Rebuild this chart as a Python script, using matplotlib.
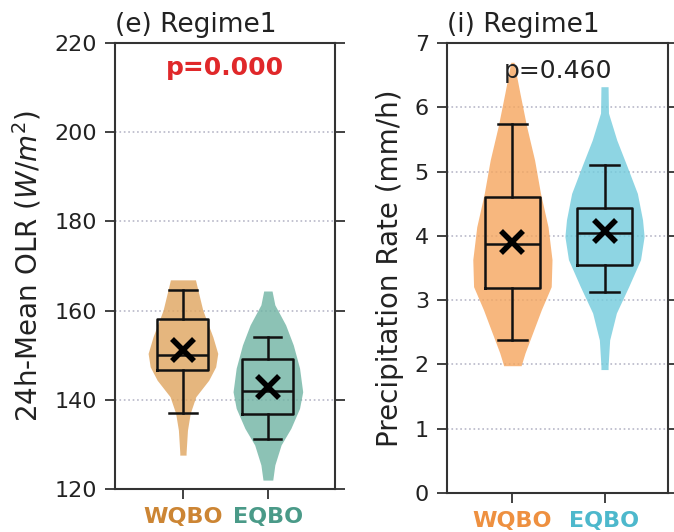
import numpy as np
import matplotlib
matplotlib.use("Agg")
import matplotlib.pyplot as plt

groups = ["WQBO", "EQBO"]

# OLR box statistics (W/m^2)
olr_q1 = [146.7, 136.8]
olr_med = [150.0, 142.0]
olr_q3 = [158.1, 149.1]
olr_lo = [137.0, 131.2]
olr_hi = [164.6, 154.0]
olr_mean = [151.2, 142.9]

# OLR density profiles (level, relative density)
olr_wqbo_lev = [127.6, 128.1, 133.2, 137.0, 140.7, 144.4, 147.4, 150.4, 154.1, 160.1, 164.6, 166.9]
olr_wqbo_den = [0.09, 0.09, 0.13, 0.21, 0.37, 0.74, 0.94, 1.00, 0.86, 0.57, 0.43, 0.36]
olr_eqbo_lev = [122.0, 125.4, 129.9, 133.6, 138.1, 141.8, 147.1, 152.3, 156.8, 161.3, 164.4]
olr_eqbo_den = [0.14, 0.20, 0.38, 0.66, 0.91, 1.00, 0.91, 0.73, 0.51, 0.20, 0.12]

# precipitation box statistics (mm/h)
pr_q1 = [3.19, 3.55]
pr_med = [3.88, 4.04]
pr_q3 = [4.61, 4.44]
pr_lo = [2.38, 3.12]
pr_hi = [5.74, 5.10]
pr_mean = [3.91, 4.07]

pr_wqbo_lev = [1.98, 2.18, 2.49, 2.85, 3.21, 3.63, 4.14, 4.66, 5.18, 5.70, 6.22, 6.70]
pr_wqbo_den = [0.22, 0.32, 0.51, 0.73, 0.98, 1.00, 0.90, 0.71, 0.56, 0.36, 0.19, 0.04]
pr_eqbo_lev = [1.92, 1.97, 2.38, 2.80, 3.21, 3.63, 3.99, 4.25, 4.66, 5.08, 5.49, 5.91, 6.32]
pr_eqbo_den = [0.09, 0.09, 0.13, 0.30, 0.61, 0.91, 1.00, 0.96, 0.83, 0.57, 0.31, 0.10, 0.09]


def draw_panel(ax, profiles, stats, means, fills, label_colors, half_w):
    for i, (lev, den) in enumerate(profiles):
        lev = np.array(lev)
        den = np.array(den) * half_w
        ax.fill_betweenx(lev, i - den, i + den, color=fills[i], alpha=0.8,
                         lw=0, zorder=1)

    q1, med, q3, lo, hi = stats
    bstats = []
    for i in range(len(groups)):
        bstats.append({"q1": q1[i], "med": med[i], "q3": q3[i],
                       "whislo": lo[i], "whishi": hi[i], "fliers": []})
    lp = dict(color="#111111", lw=1.8)
    ax.bxp(bstats, positions=range(len(groups)), widths=0.6,
           showfliers=False, patch_artist=False, manage_ticks=False,
           boxprops=lp, medianprops=lp, whiskerprops=lp, capprops=lp,
           capwidths=0.32, zorder=3)
    ax.plot(range(len(groups)), means, "x", color="black", ms=16, mew=4,
            zorder=4)

    ax.yaxis.grid(True, linestyle=":", color="#b8b8c8", lw=1.2)
    ax.set_axisbelow(True)
    ax.tick_params(axis="y", right=True, labelsize=16, length=7, width=1.3,
                   pad=6, color="#333333", labelcolor="#222222")
    ax.tick_params(axis="x", length=7, width=1.3, pad=6, color="#333333")
    ax.set_xticks(range(len(groups)))
    ax.set_xticklabels(groups, fontweight="bold", fontsize=16)
    for t, c in zip(ax.get_xticklabels(), label_colors):
        t.set_color(c)
    for s in ax.spines.values():
        s.set_linewidth(1.5)
        s.set_color("#333333")


fig = plt.figure(figsize=(6.74, 5.32), dpi=100)
ax1 = fig.add_axes([0.1706, 0.0808, 0.3264, 0.8383])
ax2 = fig.add_axes([0.6632, 0.0733, 0.328, 0.8459])

draw_panel(ax1, [(olr_wqbo_lev, olr_wqbo_den), (olr_eqbo_lev, olr_eqbo_den)],
           (olr_q1, olr_med, olr_q3, olr_lo, olr_hi), olr_mean,
           ["#dfa45e", "#6fb3a3"], ["#cc8534", "#4a9a88"], 0.41)
ax1.set_xlim(-0.8, 1.79)
ax1.set_ylim(120, 220)
ax1.set_yticks([120, 140, 160, 180, 200, 220])
ax1.set_ylabel("24h-Mean OLR ($W/m^2$)", fontsize=20, labelpad=8,
               color="#222222")
ax1.set_title("(e) Regime1", loc="left", fontsize=19, pad=8, color="#222222")
ax1.text(0.5, 0.928, "p=0.000", transform=ax1.transAxes, color="#e0282a",
         fontweight="bold", fontsize=18, ha="center", va="baseline")

draw_panel(ax2, [(pr_wqbo_lev, pr_wqbo_den), (pr_eqbo_lev, pr_eqbo_den)],
           (pr_q1, pr_med, pr_q3, pr_lo, pr_hi), pr_mean,
           ["#f5a55e", "#72cbdc"], ["#ee9040", "#4db8cc"], 0.43)
ax2.set_xlim(-0.71, 1.69)
ax2.set_ylim(0, 7)
ax2.set_yticks(range(8))
ax2.set_ylabel("Precipitation Rate (mm/h)", fontsize=20, labelpad=8,
               color="#222222")
ax2.set_title("(i) Regime1", loc="left", fontsize=19, pad=8, color="#222222")
ax2.text(0.5, 0.922, "p=0.460", transform=ax2.transAxes, color="#222222",
         fontsize=18, ha="center", va="baseline")

fig.savefig("out.png", dpi=100)
